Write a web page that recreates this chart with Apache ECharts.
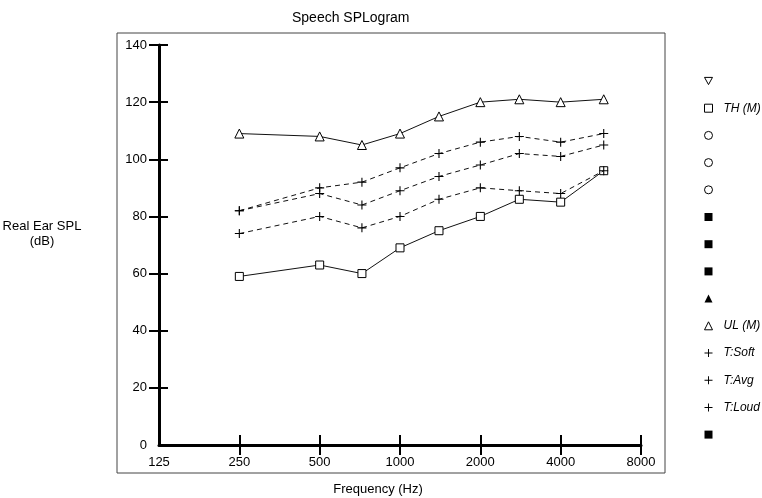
<!DOCTYPE html>
<html>
<head>
<meta charset="utf-8">
<script src="https://cdn.jsdelivr.net/npm/echarts@6/dist/echarts.min.js"></script>
<style>
  html, body { margin: 0; padding: 0; background: #fff; }
  #chart { width: 762px; height: 498px; }
</style>
</head>
<body>
<div id="chart"></div>
<script>
// ---- data ----
const freqHz = [250, 500, 720, 1000, 1400, 2000, 2800, 4000, 5800];
const xTickLabels = ['125', '250', '500', '1000', '2000', '4000', '8000'];
const thM   = [59, 63, 60, 69, 75, 80, 86, 85, 96];
const ulM   = [109, 108, 105, 109, 115, 120, 121, 120, 121];
const tSoft = [74, 80, 76, 80, 86, 90, 89, 88, 96];
const tAvg  = [82, 88, 84, 89, 94, 98, 102, 101, 105];
const tLoud = [82, 90, 92, 97, 102, 106, 108, 106, 109];
const legendLabels = ['', 'TH (M)', '', '', '', '', '', '', '', 'UL (M)', 'T:Soft', 'T:Avg', 'T:Loud', ''];

// ---- build ----
const FONT = '"Liberation Sans", Arial, sans-serif';
const PLUS = 'path://M4.4,0H5.6V10H4.4ZM0,4.4H10V5.6H0Z';
const DOWN_TRI = 'path://M0,0L10,0L5,9Z';
const hollow = { color: '#fff', borderColor: '#000', borderWidth: 1 };
const filled = { color: '#000', borderColor: '#000', borderWidth: 0 };
const legendIcons = [
  { icon: DOWN_TRI, itemStyle: hollow },
  { icon: 'rect', itemStyle: hollow },
  { icon: 'circle', itemStyle: hollow },
  { icon: 'circle', itemStyle: hollow },
  { icon: 'circle', itemStyle: hollow },
  { icon: 'rect', itemStyle: filled },
  { icon: 'rect', itemStyle: filled },
  { icon: 'rect', itemStyle: filled },
  { icon: 'triangle', itemStyle: filled },
  { icon: 'triangle', itemStyle: hollow },
  { icon: PLUS, itemStyle: filled },
  { icon: PLUS, itemStyle: filled },
  { icon: PLUS, itemStyle: filled },
  { icon: 'rect', itemStyle: filled }
];
const keys = legendLabels.map((_, i) => 'k' + i);
const labelByKey = {};
keys.forEach((k, i) => { labelByKey[k] = legendLabels[i]; });

const toX = f => Math.log2(f / 125);
const pts = arr => arr.map((v, i) => [toX(freqHz[i]), v]);

const solid = { color: '#111', width: 1, type: 'solid' };
const dashed = { color: '#111', width: 1, type: [5, 4] };

const realSeries = {
  1: { data: pts(thM), symbol: 'rect', symbolSize: 8, lineStyle: solid, itemStyle: hollow, z: 3 },
  9: { data: pts(ulM), symbol: 'triangle', symbolSize: 9, lineStyle: solid, itemStyle: hollow, z: 3 },
  10: { data: pts(tSoft), symbol: PLUS, symbolSize: 9, lineStyle: dashed, itemStyle: filled, z: 4 },
  11: { data: pts(tAvg), symbol: PLUS, symbolSize: 9, lineStyle: dashed, itemStyle: filled, z: 4 },
  12: { data: pts(tLoud), symbol: PLUS, symbolSize: 9, lineStyle: dashed, itemStyle: filled, z: 4 }
};

const series = keys.map((k, i) => {
  const base = { name: k, type: 'line', xAxisIndex: 0, yAxisIndex: 0, showSymbol: true, animation: false, silent: true };
  if (realSeries[i]) return Object.assign(base, realSeries[i]);
  return Object.assign(base, { data: [], symbol: 'none' });
});

const chart = echarts.init(document.getElementById('chart'), null, { renderer: 'canvas' });
chart.setOption({
  backgroundColor: '#fff',
  animation: false,
  title: {
    text: 'Speech SPLogram',
    left: 287, top: 6,
    textStyle: { fontFamily: FONT, fontSize: 14, fontWeight: 'normal', color: '#000' }
  },
  grid: { left: 159, right: 121, top: 45, bottom: 53, containLabel: false },
  xAxis: [
    {
      type: 'value', min: 0, max: 6, interval: 1, position: 'bottom',
      axisLine: { show: true, lineStyle: { color: '#000', width: 3 } },
      axisTick: { show: true, inside: false, length: 10, lineStyle: { color: '#000', width: 2 }, customValues: [1, 2, 3, 4, 5, 6] },
      axisLabel: { margin: 11, color: '#000', fontFamily: FONT, fontSize: 13, formatter: v => xTickLabels[Math.round(v)] },
      splitLine: { show: false }
    },
    {
      type: 'value', min: 0, max: 6, interval: 1, position: 'bottom', offset: 0,
      axisLine: { show: false },
      axisTick: { show: true, inside: true, length: 10, lineStyle: { color: '#000', width: 2 }, customValues: [1, 2, 3, 4, 5, 6] },
      axisLabel: { show: false },
      splitLine: { show: false }
    }
  ],
  yAxis: [
    {
      type: 'value', min: 0, max: 140, interval: 20, position: 'left',
      axisLine: { show: true, lineStyle: { color: '#000', width: 3 } },
      axisTick: { show: true, inside: false, length: 10, lineStyle: { color: '#000', width: 2 }, customValues: [20, 40, 60, 80, 100, 120, 140] },
      axisLabel: { margin: 12, color: '#000', fontFamily: FONT, fontSize: 13 },
      splitLine: { show: false }
    },
    {
      type: 'value', min: 0, max: 140, interval: 20, position: 'left', offset: 0,
      axisLine: { show: false },
      axisTick: { show: true, inside: true, length: 9, lineStyle: { color: '#000', width: 2 }, customValues: [20, 40, 60, 80, 100, 120, 140] },
      axisLabel: { show: false },
      splitLine: { show: false }
    }
  ],
  legend: {
    orient: 'vertical',
    left: 699, top: 69,
    itemWidth: 8, itemHeight: 8, itemGap: 13.2,
    selectedMode: false,
    data: keys.map((k, i) => Object.assign({ name: k }, legendIcons[i])),
    formatter: name => labelByKey[name] || ' ',
    textStyle: { fontFamily: FONT, fontSize: 12, fontStyle: 'italic', color: '#000', lineHeight: 14, padding: [0, 0, 0, 6] }
  },
  graphic: [
    { type: 'rect', shape: { x: 117, y: 33, width: 548, height: 440 }, style: { fill: 'none', stroke: '#444', lineWidth: 1 }, z: 0, silent: true },
    { type: 'text', x: 42, y: 219, style: { text: 'Real Ear SPL\n(dB)', align: 'center', fontFamily: FONT, fontSize: 13, lineHeight: 15, fill: '#000' }, silent: true },
    { type: 'text', x: 378, y: 483, style: { text: 'Frequency (Hz)', align: 'center', fontFamily: FONT, fontSize: 13, fill: '#000' }, silent: true }
  ],
  series: series
});
</script>
</body>
</html>
